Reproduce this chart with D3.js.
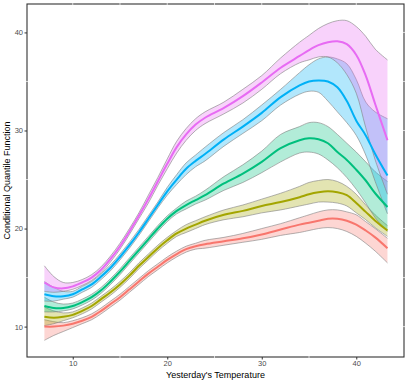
<!DOCTYPE html>
<html>
<head>
<meta charset="utf-8">
<script src="https://cdn.jsdelivr.net/npm/d3@7"></script>
<style>
  body { margin: 0; background: #ffffff; }
  svg { display: block; font-family: "Liberation Sans", Arial, sans-serif; }
</style>
</head>
<body>
<div id="chart"></div>
<script>
// ### data
// yesterday's temperature grid shared by every quantile curve
var temps = [7, 8, 9, 10, 11, 12, 13, 14, 15, 16, 17, 18, 19, 20, 21, 22, 23, 24, 26, 28, 30, 32, 34, 35, 36, 37, 38, 39, 40, 41, 42, 43.3];

// one entry per quantile, lowest first
var quantiles = ["0.1", "0.25", "0.5", "0.75", "0.9"];
var colors = ["#F8766D", "#A3A500", "#00BF7D", "#00B0F6", "#E76BF3"];

// fitted conditional quantile
var q10 = [10.0, 10.0, 10.1, 10.3, 10.6, 11.0, 11.6, 12.3, 13.0, 13.8, 14.6, 15.4, 16.1, 16.8, 17.4, 17.9, 18.2, 18.4, 18.7, 19.0, 19.4, 19.9, 20.4, 20.6, 20.8, 21.0, 21.0, 20.8, 20.4, 19.8, 19.1, 18.0];
var q25 = [11.0, 10.9, 11.0, 11.2, 11.6, 12.1, 12.8, 13.5, 14.3, 15.2, 16.2, 17.1, 18.0, 18.8, 19.5, 20.0, 20.4, 20.8, 21.4, 21.8, 22.3, 22.7, 23.2, 23.5, 23.7, 23.8, 23.7, 23.4, 22.6, 21.7, 20.8, 19.8];
var q50 = [12.1, 11.9, 11.9, 12.1, 12.5, 13.0, 13.7, 14.6, 15.6, 16.7, 17.8, 18.9, 20.0, 21.0, 21.8, 22.4, 22.9, 23.4, 24.6, 25.6, 26.8, 28.2, 29.0, 29.2, 29.1, 28.7, 27.8, 27.0, 26.0, 24.9, 23.6, 22.2];
var q75 = [13.3, 13.1, 13.1, 13.3, 13.8, 14.3, 15.1, 16.0, 17.1, 18.3, 19.6, 21.0, 22.4, 23.8, 25.0, 26.1, 26.9, 27.6, 29.1, 30.4, 31.8, 33.4, 34.6, 35.0, 35.1, 35.0, 34.4, 33.0, 31.0, 29.5, 27.6, 25.4];
var q90 = [14.5, 14.0, 13.9, 14.1, 14.5, 15.0, 15.8, 16.9, 18.2, 19.7, 21.3, 23.0, 24.8, 26.6, 28.3, 29.6, 30.6, 31.3, 32.3, 33.5, 34.9, 36.4, 37.6, 38.2, 38.7, 39.0, 39.1, 38.8, 37.7, 35.6, 32.7, 29.0];

// lower edge of the confidence band
var q10_lo = [8.6, 9.1, 9.5, 9.9, 10.3, 10.7, 11.3, 12.0, 12.7, 13.5, 14.3, 15.1, 15.8, 16.5, 17.1, 17.6, 17.9, 18.0, 18.3, 18.6, 18.9, 19.3, 19.6, 19.8, 20.0, 20.1, 20.0, 19.7, 19.2, 18.5, 17.7, 16.5];
var q25_lo = [10.1, 10.3, 10.6, 10.9, 11.3, 11.8, 12.5, 13.2, 14.0, 14.9, 15.9, 16.8, 17.7, 18.5, 19.2, 19.6, 20.0, 20.4, 20.9, 21.2, 21.6, 21.9, 22.3, 22.5, 22.7, 22.7, 22.6, 22.3, 21.6, 20.9, 20.1, 19.2];
var q50_lo = [11.5, 11.5, 11.6, 11.8, 12.2, 12.7, 13.4, 14.3, 15.3, 16.4, 17.5, 18.6, 19.7, 20.7, 21.5, 22.0, 22.5, 22.9, 23.9, 24.7, 25.7, 26.8, 27.7, 27.8, 27.6, 27.0, 26.2, 25.2, 24.0, 22.6, 21.1, 19.7];
var q75_lo = [12.6, 12.6, 12.8, 13.0, 13.5, 14.0, 14.8, 15.7, 16.8, 18.0, 19.3, 20.7, 22.1, 23.4, 24.5, 25.5, 26.3, 26.9, 28.4, 29.7, 31.0, 32.6, 33.7, 34.0, 33.9, 33.0, 31.9, 30.8, 29.5, 27.5, 24.8, 21.5];
var q90_lo = [13.6, 13.5, 13.6, 13.8, 14.2, 14.7, 15.5, 16.6, 17.9, 19.4, 21.0, 22.6, 24.4, 26.1, 27.7, 29.0, 30.0, 30.7, 31.7, 32.8, 34.2, 35.8, 36.9, 37.2, 37.5, 37.5, 36.9, 35.7, 33.8, 30.3, 27.0, 23.5];

// upper edge of the confidence band
var q10_hi = [10.7, 10.5, 10.4, 10.6, 10.9, 11.3, 11.9, 12.6, 13.3, 14.1, 14.9, 15.7, 16.4, 17.1, 17.7, 18.2, 18.5, 18.8, 19.1, 19.5, 20.0, 20.5, 21.1, 21.4, 21.7, 21.9, 21.9, 21.7, 21.4, 20.7, 20.0, 19.0];
var q25_hi = [12.0, 11.6, 11.4, 11.5, 11.9, 12.4, 13.1, 13.8, 14.6, 15.5, 16.5, 17.4, 18.3, 19.1, 19.8, 20.4, 20.8, 21.2, 21.9, 22.4, 23.0, 23.6, 24.3, 24.7, 24.9, 25.0, 24.8, 24.3, 23.5, 22.4, 21.4, 20.3];
var q50_hi = [13.0, 12.5, 12.3, 12.4, 12.8, 13.3, 14.0, 14.9, 15.9, 17.0, 18.1, 19.2, 20.3, 21.3, 22.1, 22.8, 23.3, 23.9, 25.3, 26.5, 27.9, 29.6, 30.4, 30.8, 30.8, 30.4, 29.6, 28.7, 27.8, 26.8, 25.8, 24.8];
var q75_hi = [14.6, 14.0, 13.6, 13.6, 14.1, 14.6, 15.4, 16.3, 17.4, 18.6, 19.9, 21.3, 22.7, 24.2, 25.5, 26.7, 27.5, 28.3, 29.8, 31.1, 32.6, 34.2, 35.9, 36.7, 37.3, 37.5, 37.3, 36.8, 35.2, 32.9, 31.9, 31.2];
var q90_hi = [16.2, 15.1, 14.5, 14.5, 14.8, 15.3, 16.1, 17.2, 18.5, 20.0, 21.6, 23.4, 25.2, 27.1, 28.9, 30.2, 31.2, 31.9, 32.9, 34.2, 35.6, 37.4, 39.0, 39.7, 40.4, 40.9, 41.2, 41.2, 40.6, 39.6, 38.3, 37.2];

// axis ticks
var x_ticks = [10, 20, 30, 40];
var x_minor = [15, 25, 35];
var y_ticks = [10, 20, 30, 40];
var y_minor = [15, 25, 35];

var x_title = "Yesterday's Temperature";
var y_title = "Conditional Quantile Function";

// ### build the series table from the arrays above
var fits = [q10, q25, q50, q75, q90];
var lows = [q10_lo, q25_lo, q50_lo, q75_lo, q90_lo];
var highs = [q10_hi, q25_hi, q50_hi, q75_hi, q90_hi];

var series = quantiles.map(function(q, i){
	return {
		name: q,
		color: colors[i],
		points: temps.map(function(t, j){
			return {x: t, y: fits[i][j], lo: lows[i][j], hi: highs[i][j]};
		})
	};
});

// ### panel geometry
var width = 409, height = 382;
var panel = {left: 27, top: 4, right: 404, bottom: 357};

var x = d3.scaleLinear().domain([5.16, 45.05]).range([panel.left, panel.right]);
var y = d3.scaleLinear().domain([6.9, 42.9]).range([panel.bottom, panel.top]);

var svg = d3.select("#chart").append("svg")
	.attr("width", width)
	.attr("height", height);

// clip everything to the panel
svg.append("clipPath").attr("id", "panel_clip")
	.append("rect")
	.attr("x", panel.left).attr("y", panel.top)
	.attr("width", panel.right - panel.left)
	.attr("height", panel.bottom - panel.top);

var plot = svg.append("g").attr("clip-path", "url(#panel_clip)");

// ### ribbons
var band = d3.area()
	.x(function(d){ return x(d.x); })
	.y0(function(d){ return y(d.lo); })
	.y1(function(d){ return y(d.hi); })
	.curve(d3.curveCatmullRom);

var edge_lo = d3.line()
	.x(function(d){ return x(d.x); })
	.y(function(d){ return y(d.lo); })
	.curve(d3.curveCatmullRom);

var edge_hi = d3.line()
	.x(function(d){ return x(d.x); })
	.y(function(d){ return y(d.hi); })
	.curve(d3.curveCatmullRom);

var fit_line = d3.line()
	.x(function(d){ return x(d.x); })
	.y(function(d){ return y(d.y); })
	.curve(d3.curveCatmullRom);

var ribbons = plot.selectAll(".ribbon").data(series).enter().append("g")
	.attr("class", "ribbon");

ribbons.append("path")
	.attr("d", function(d){ return band(d.points); })
	.attr("fill", function(d){ return d.color; })
	.attr("fill-opacity", 0.3)
	.attr("stroke", "none");

ribbons.append("path")
	.attr("d", function(d){ return edge_lo(d.points); })
	.attr("fill", "none")
	.attr("stroke", "#7f7f7f")
	.attr("stroke-width", 0.6);

ribbons.append("path")
	.attr("d", function(d){ return edge_hi(d.points); })
	.attr("fill", "none")
	.attr("stroke", "#7f7f7f")
	.attr("stroke-width", 0.6);

// ### quantile lines on top
plot.selectAll(".fit").data(series).enter().append("path")
	.attr("class", "fit")
	.attr("d", function(d){ return fit_line(d.points); })
	.attr("fill", "none")
	.attr("stroke", function(d){ return d.color; })
	.attr("stroke-width", 2);

// ### panel border
svg.append("rect")
	.attr("x", panel.left).attr("y", panel.top)
	.attr("width", panel.right - panel.left)
	.attr("height", panel.bottom - panel.top)
	.attr("fill", "none")
	.attr("stroke", "#333333")
	.attr("stroke-width", 1.1);

// light minor marks that cross the border on all four sides
var marks = svg.append("g").attr("stroke", "#dcdcdc").attr("stroke-width", 1);
x_ticks.concat(x_minor).forEach(function(t){
	marks.append("line").attr("x1", x(t)).attr("x2", x(t)).attr("y1", panel.top - 1).attr("y2", panel.top + 1);
});
x_minor.forEach(function(t){
	marks.append("line").attr("x1", x(t)).attr("x2", x(t)).attr("y1", panel.bottom - 1).attr("y2", panel.bottom + 1);
});
y_ticks.concat(y_minor).forEach(function(t){
	marks.append("line").attr("x1", panel.right - 1).attr("x2", panel.right + 1).attr("y1", y(t)).attr("y2", y(t));
});
y_minor.forEach(function(t){
	marks.append("line").attr("x1", panel.left - 1).attr("x2", panel.left + 1).attr("y1", y(t)).attr("y2", y(t));
});

// ### axes
var x_axis = svg.append("g")
	.attr("transform", "translate(0," + panel.bottom + ")")
	.call(d3.axisBottom(x).tickValues(x_ticks).tickSize(2.5).tickPadding(1.5));

var y_axis = svg.append("g")
	.attr("transform", "translate(" + panel.left + ",0)")
	.call(d3.axisLeft(y).tickValues(y_ticks).tickSize(2.5).tickPadding(1.5));

[x_axis, y_axis].forEach(function(ax){
	ax.select(".domain").remove();
	ax.selectAll(".tick line").attr("stroke", "#333333");
	ax.selectAll(".tick text")
		.attr("fill", "#4d4d4d")
		.style("font-size", "7.5px")
		.style("font-family", "'Liberation Sans', Arial, sans-serif");
});

// ### axis titles
svg.append("text")
	.attr("x", (panel.left + panel.right) / 2)
	.attr("y", 377.5)
	.attr("text-anchor", "middle")
	.attr("fill", "#000000")
	.style("font-size", "9px")
	.text(x_title);

svg.append("text")
	.attr("transform", "translate(10," + ((panel.top + panel.bottom) / 2) + ") rotate(-90)")
	.attr("text-anchor", "middle")
	.attr("fill", "#000000")
	.style("font-size", "9px")
	.text(y_title);
</script>
</body>
</html>
